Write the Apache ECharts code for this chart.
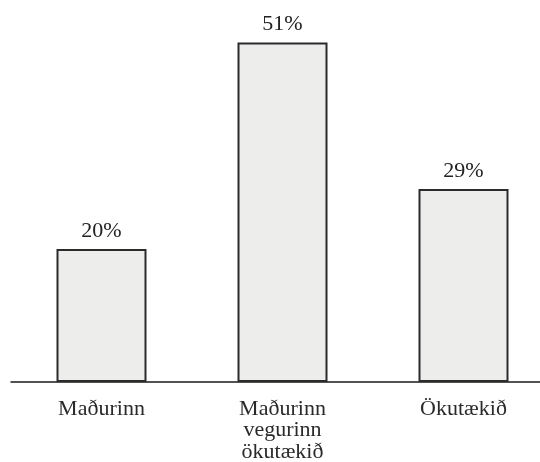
<!DOCTYPE html>
<html>
<head>
<meta charset="utf-8">
<script src="https://cdn.jsdelivr.net/npm/echarts@6/dist/echarts.min.js"></script>
<style>
  html, body { margin: 0; padding: 0; background: #ffffff; }
  #chart { width: 540px; height: 462px; }
</style>
</head>
<body>
<div id="chart"></div>
<script>
// Categories (who is at fault) and their shares in percent
const categories = ['Maðurinn', 'Maðurinn\nvegurinn\nökutækið', 'Ökutækið'];
const shares = [20, 51, 29];

const chart = echarts.init(document.getElementById('chart'), null, { renderer: 'canvas' });

chart.setOption({
  backgroundColor: '#ffffff',
  animation: false,
  // plot area runs slightly past the right edge so the three bands sit evenly
  grid: { left: 11, width: 543, top: 0, bottom: 80, outerBoundsMode: 'none', containLabel: false },
  xAxis: {
    type: 'category',
    data: categories,
    axisLine: { show: true, lineStyle: { color: '#1a1a1a', width: 1.5 } },
    axisTick: { show: false },
    axisLabel: {
      interval: 0,
      margin: 16,
      color: '#2a2a2a',
      fontFamily: 'Liberation Serif',
      fontSize: 22,
      lineHeight: 21.5
    }
  },
  yAxis: {
    type: 'value',
    min: 0,
    max: 57.4,
    show: false,
    splitLine: { show: false }
  },
  series: [{
    type: 'bar',
    data: shares,
    barWidth: 90,
    itemStyle: {
      color: '#edeeec',
      borderColor: '#2b2b2b',
      borderWidth: 2
    },
    label: {
      show: true,
      position: 'top',
      distance: 7,
      formatter: '{c}%',
      color: '#222222',
      fontFamily: 'Liberation Serif',
      fontSize: 22
    }
  }]
});
</script>
</body>
</html>
